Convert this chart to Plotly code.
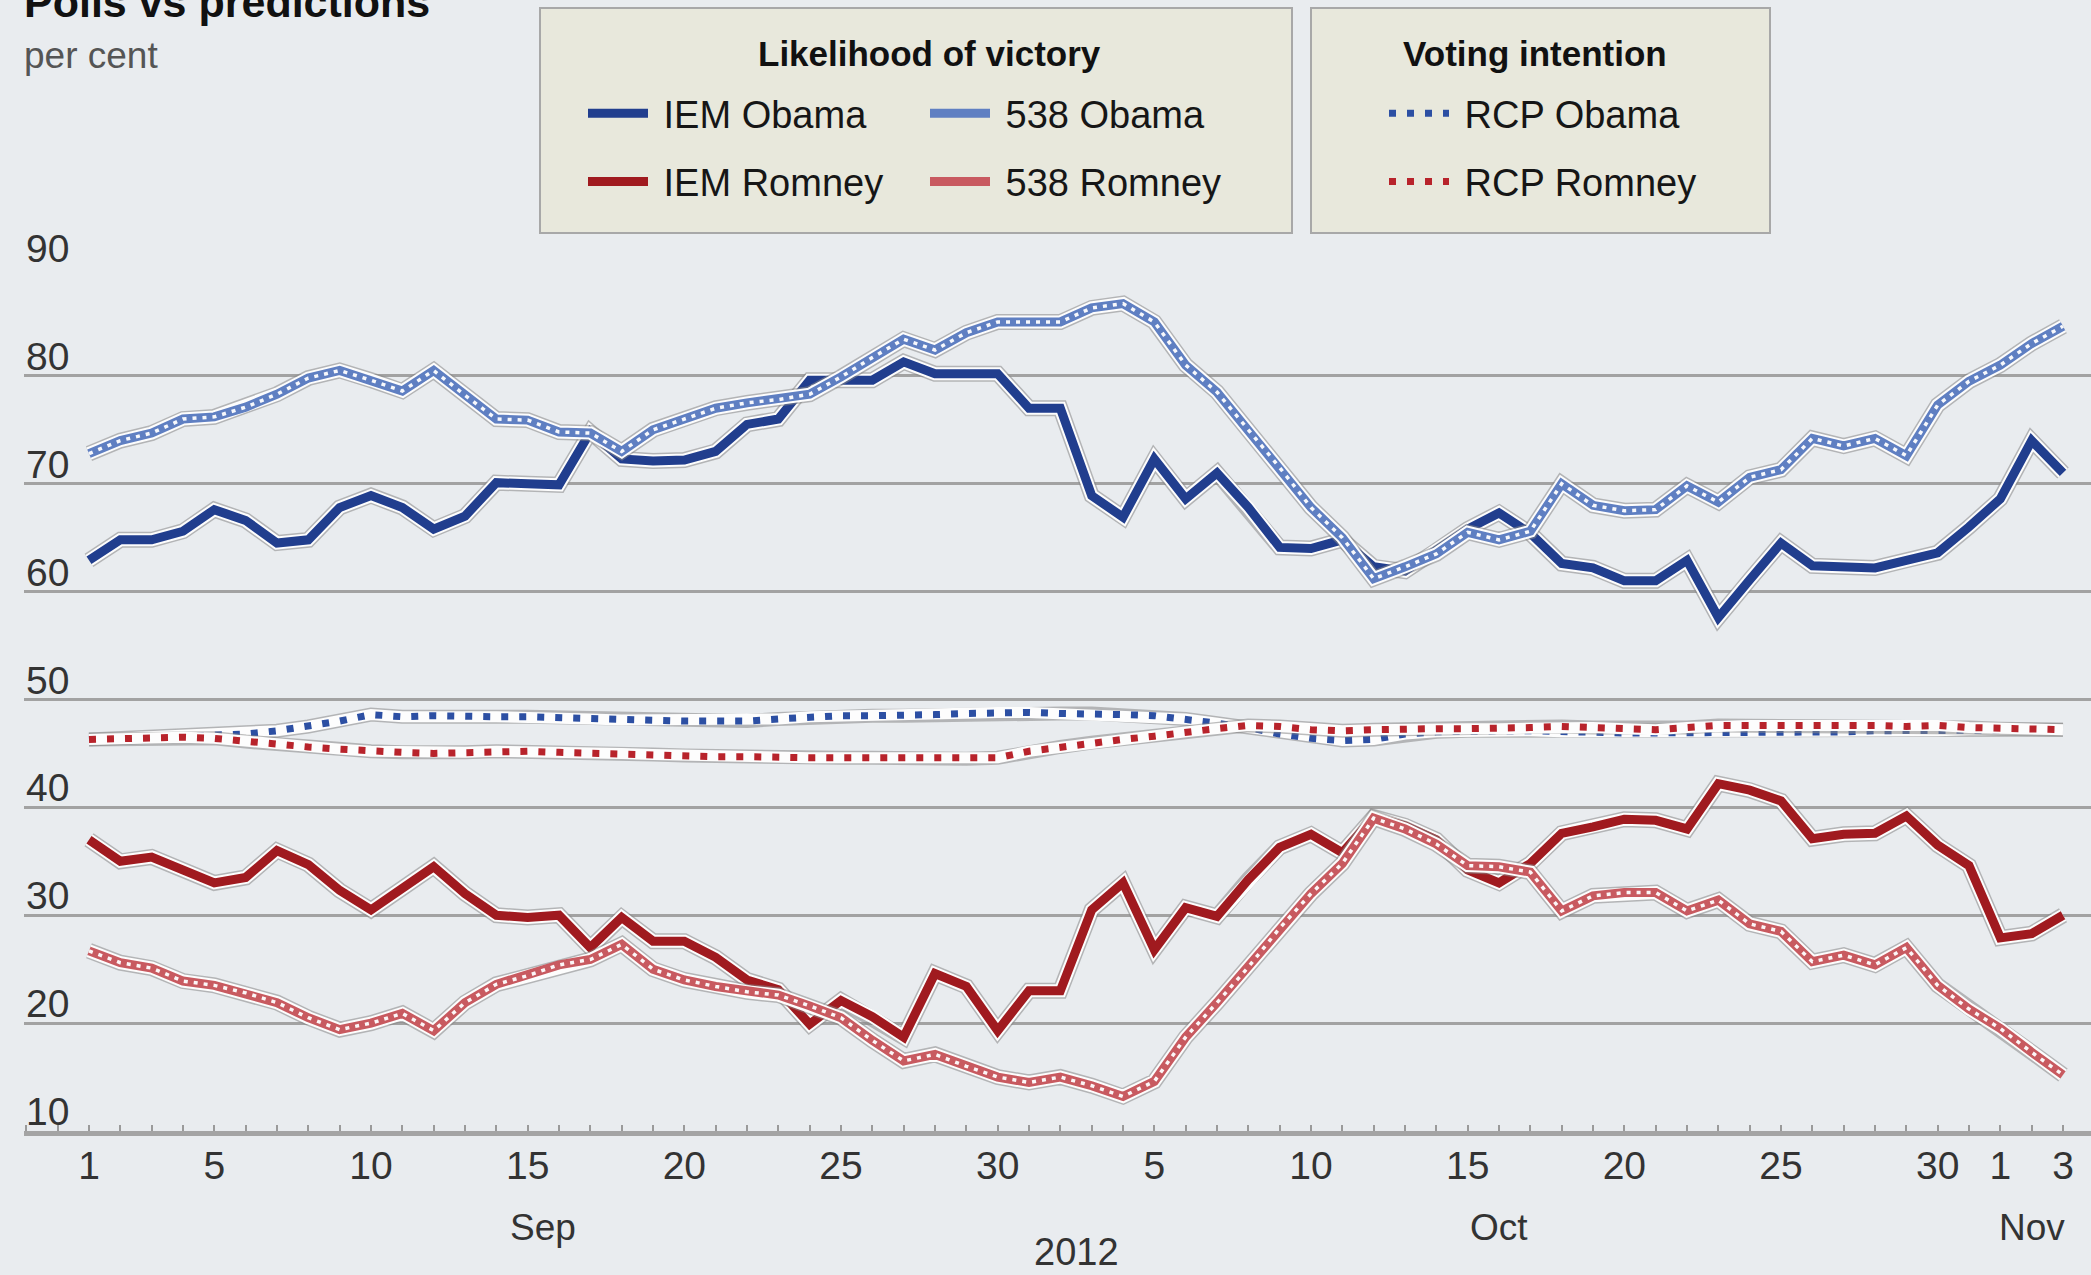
import pandas as pd
import plotly.graph_objects as go

# ---------------- data ----------------
dates = pd.date_range("2012-09-01", "2012-11-03", freq="D")

iem_obama = [62.9, 64.8, 64.8, 65.6, 67.6, 66.6, 64.5, 64.8, 67.8, 68.9,
             67.8, 65.8, 67.0, 70.1, 70.0, 69.9, 74.8, 72.3, 72.1, 72.2,
             73.0, 75.5, 76.0, 79.6, 79.6, 79.6, 81.3, 80.2, 80.2, 80.2,
             77.0, 77.0, 68.9, 66.9, 72.3, 68.6, 71.0, 67.8, 64.1, 64.0,
             64.8, 62.3, 61.9, 63.8, 65.8, 67.3, 65.4, 62.6, 62.2, 61.0,
             61.0, 62.9, 57.6, 61.1, 64.5, 62.4, 62.4, 62.2, 62.9, 63.6,
             66.0, 68.6, 74.0, 71.0]

iem_romney = [37.0, 35.0, 35.4, 34.3, 33.0, 33.5, 36.0, 34.7, 32.3, 30.5,
              32.6, 34.5, 32.0, 30.0, 29.8, 30.0, 27.0, 29.8, 27.6, 27.6,
              26.1, 24.0, 23.1, 19.9, 22.1, 20.6, 18.7, 24.6, 23.4, 19.3,
              23.0, 23.0, 30.5, 33.0, 26.8, 30.7, 29.9, 33.3, 36.3, 37.5,
              35.8, 39.1, 38.3, 37.0, 34.2, 33.0, 34.8, 37.6, 38.2, 38.9,
              38.8, 38.0, 42.2, 41.6, 40.6, 37.1, 37.5, 37.6, 39.2, 36.5,
              34.6, 27.9, 28.3, 30.0]

f538_obama = [72.8, 74.0, 74.7, 76.0, 76.2, 77.1, 78.3, 79.8, 80.5, 79.6,
              78.6, 80.5, 78.2, 76.0, 75.9, 74.8, 74.7, 73.0, 75.0, 76.0,
              77.0, 77.5, 77.8, 78.3, 79.9, 81.7, 83.4, 82.4, 84.0, 85.0,
              85.0, 85.0, 86.3, 86.7, 85.0, 81.0, 78.5, 75.0, 71.5, 67.8,
              65.0, 61.2, 62.3, 63.5, 65.5, 64.8, 65.6, 70.0, 68.0, 67.5,
              67.6, 69.8, 68.3, 70.6, 71.3, 74.2, 73.5, 74.2, 72.6, 77.3,
              79.5, 81.0, 83.0, 84.6]

f538_romney = [26.7, 25.6, 25.1, 23.9, 23.5, 22.8, 21.9, 20.5, 19.4, 20.0,
               20.9, 19.3, 21.9, 23.6, 24.4, 25.4, 25.9, 27.3, 25.0, 24.0,
               23.4, 22.9, 22.6, 21.6, 20.5, 18.4, 16.5, 17.1, 16.0, 15.0,
               14.5, 15.0, 14.2, 13.2, 14.6, 18.7, 21.9, 25.2, 28.8, 32.0,
               34.8, 39.0, 38.0, 36.6, 34.6, 34.5, 34.0, 30.4, 31.8, 32.1,
               32.1, 30.4, 31.4, 29.2, 28.5, 25.7, 26.3, 25.4, 27.0, 23.5,
               21.3, 19.5, 17.3, 15.2]

rcp_obama = [46.3, 46.4, 46.5, 46.6, 46.7, 46.8, 47.1, 47.5, 48.0, 48.6,
             48.4, 48.5, 48.4, 48.4, 48.4, 48.3, 48.2, 48.1, 48.1, 48.0,
             48.0, 48.0, 48.2, 48.4, 48.5, 48.5, 48.5, 48.6, 48.7, 48.8,
             48.8, 48.7, 48.7, 48.6, 48.5, 48.2, 47.8, 47.4, 46.8, 46.4,
             46.2, 46.3, 46.8, 47.0, 47.1, 47.1, 47.1, 47.0, 47.0, 46.9,
             46.9, 46.9, 47.0, 47.0, 47.0, 47.0, 47.0, 47.1, 47.1, 47.1,
             47.2, 47.2, 47.2, 47.2]

rcp_romney = [46.3, 46.4, 46.5, 46.5, 46.4, 46.1, 45.8, 45.6, 45.4, 45.2,
              45.1, 45.0, 45.1, 45.2, 45.2, 45.1, 45.0, 45.0, 44.9, 44.8,
              44.7, 44.7, 44.6, 44.6, 44.6, 44.6, 44.5, 44.5, 44.5, 44.6,
              45.2, 45.6, 46.0, 46.3, 46.6, 47.0, 47.3, 47.6, 47.5, 47.2,
              47.1, 47.2, 47.3, 47.3, 47.3, 47.3, 47.4, 47.5, 47.4, 47.3,
              47.2, 47.4, 47.6, 47.6, 47.6, 47.6, 47.7, 47.6, 47.5, 47.6,
              47.4, 47.3, 47.2, 47.2]

tick_dates = ["2012-09-01", "2012-09-05", "2012-09-10", "2012-09-15", "2012-09-20",
              "2012-09-25", "2012-09-30", "2012-10-05", "2012-10-10", "2012-10-15",
              "2012-10-20", "2012-10-25", "2012-10-30", "2012-11-01", "2012-11-03"]
tick_text = ["1", "5", "10", "15", "20", "25", "30", "5", "10", "15", "20", "25", "30", "1", "3"]
month_starts = ["2012-10-01", "2012-11-01"]
y_ticks = [10, 20, 30, 40, 50, 60, 70, 80, 90]
month_labels = ["Sep", "Oct", "Nov"]
month_pos = ["2012-09-15 12:00", "2012-10-16", "2012-11-02"]

# ---------------- layout geometry ----------------
W, H = 2091, 1275
L, R, T, B = 24, 0, 268, 144
PW, PH = W - L - R, H - T - B
FONT = "Liberation Sans, Arial, Helvetica, sans-serif"
BG = "#e9ecef"
NB = "\u00a0"


def px_x(px):
    return (px - L) / PW


def px_y(py):
    return (H - B - py) / PH


ppd = (2063 - 89) / 63.0
d0 = pd.Timestamp("2012-09-01")
x_start = d0 - pd.Timedelta(days=(89 - L) / ppd)
x_end = d0 + pd.Timedelta(days=(W - R - 89) / ppd)

fig = go.Figure()


def add_series(y, name, color, width, legend, dash=None, chain=False):
    grp = name
    common = dict(x=dates, y=y, mode="lines", hoverinfo="skip", showlegend=False,
                  legendgroup=grp, legend=legend)
    fig.add_trace(go.Scatter(line=dict(color="rgba(135,135,135,0.55)", width=width + 7), **common))
    fig.add_trace(go.Scatter(line=dict(color="rgba(253,253,253,1)", width=width + 4), **common))
    fig.add_trace(go.Scatter(x=dates, y=y, name=NB + name, mode="lines",
                             line=dict(color=color, width=width, dash=dash),
                             legendgroup=grp, legend=legend))
    if chain:
        fig.add_trace(go.Scatter(line=dict(color="rgba(255,255,255,0.95)", width=3.5,
                                           dash="4px,6px"), **common))


add_series(rcp_obama, "RCP Obama", "#2c4fa3", 7, "legend3", dash="7px,11px")
add_series(rcp_romney, "RCP Romney", "#b8232b", 7, "legend3", dash="7px,11px")
add_series(iem_obama, "IEM Obama", "#213e8e", 9, "legend")
add_series(iem_romney, "IEM Romney", "#a01a1f", 9, "legend")
add_series(f538_obama, "538 Obama", "#5f7fc2", 9, "legend2", chain=True)
add_series(f538_romney, "538 Romney", "#c85a60", 9, "legend2", chain=True)

legend_common = dict(font=dict(family=FONT, size=38, color="#161616"), bgcolor="rgba(0,0,0,0)",
                     borderwidth=0, orientation="v", yanchor="top", xanchor="left",
                     itemwidth=60, tracegroupgap=16, traceorder="grouped",
                     itemclick=False, itemdoubleclick=False)

annotations = []
# title & subtitle
annotations.append(dict(text="<b>Polls vs predictions</b>", xref="paper", yref="paper",
                        x=px_x(22), y=px_y(28), xanchor="left", yanchor="bottom",
                        showarrow=False, font=dict(family=FONT, size=43, color="#111")))
annotations.append(dict(text="per cent", xref="paper", yref="paper",
                        x=px_x(22), y=px_y(56), xanchor="left", yanchor="middle",
                        showarrow=False, font=dict(family=FONT, size=37, color="#555")))
# legend box titles
annotations.append(dict(text="<b>Likelihood of victory</b>", xref="paper", yref="paper",
                        x=px_x(929), y=px_y(53), xanchor="center", yanchor="middle",
                        showarrow=False, font=dict(family=FONT, size=35, color="#111")))
annotations.append(dict(text="<b>Voting intention</b>", xref="paper", yref="paper",
                        x=px_x(1535), y=px_y(53), xanchor="center", yanchor="middle",
                        showarrow=False, font=dict(family=FONT, size=35, color="#111")))
# y tick labels above gridlines
for v in y_ticks:
    annotations.append(dict(text=str(v), xref="paper", yref="y", x=0, y=v,
                            xanchor="left", yanchor="bottom", yshift=-4, showarrow=False,
                            font=dict(family=FONT, size=39, color="#333")))
# month labels
for m, p in zip(month_labels, month_pos):
    annotations.append(dict(text=m, xref="x", yref="paper", x=p, y=px_y(1227),
                            xanchor="center", yanchor="middle", showarrow=False,
                            font=dict(family=FONT, size=37, color="#333")))
annotations.append(dict(text="2012", xref="x", yref="paper", x="2012-10-02 12:00", y=px_y(1252),
                        xanchor="center", yanchor="middle", showarrow=False,
                        font=dict(family=FONT, size=38, color="#333")))

shapes = [
    dict(type="rect", xref="paper", yref="paper", x0=px_x(540), x1=px_x(1292),
         y0=px_y(233), y1=px_y(8), fillcolor="#e8e8dc", line=dict(color="#a8a8a8", width=2),
         layer="below"),
    dict(type="rect", xref="paper", yref="paper", x0=px_x(1311), x1=px_x(1770),
         y0=px_y(233), y1=px_y(8), fillcolor="#e8e8dc", line=dict(color="#a8a8a8", width=2),
         layer="below"),
]

fig.update_layout(
    width=W, height=H,
    margin=dict(l=L, r=R, t=T, b=B, pad=0),
    paper_bgcolor=BG, plot_bgcolor=BG,
    font=dict(family=FONT, size=40, color="#333"),
    showlegend=True,
    legend=dict(x=px_x(583), y=px_y(82), **legend_common),
    legend2=dict(x=px_x(925), y=px_y(82), **legend_common),
    legend3=dict(x=px_x(1384), y=px_y(82), **legend_common),
    annotations=annotations,
    shapes=shapes,
    hovermode=False,
    xaxis=dict(
        type="date",
        range=[x_start, x_end],
        tickvals=tick_dates, ticktext=tick_text,
        ticks="inside", ticklen=6, tickwidth=2, tickcolor="#9a9a9a",
        minor=dict(dtick=86400000.0, tick0="2012-09-01", ticks="inside", ticklen=6,
                   tickwidth=2, tickcolor="#9a9a9a", showgrid=False),
        showgrid=False, zeroline=False,
        showline=True, linecolor="#a4a4a4", linewidth=5,
        tickfont=dict(family=FONT, size=39, color="#333"),
        ticklabelstandoff=-4,
    ),
    xaxis2=dict(
        type="date", range=[x_start, x_end], overlaying="x", anchor="y", side="bottom",
        tickvals=month_starts, ticks="inside", ticklen=12, tickwidth=2,
        tickcolor="#9a9a9a", showticklabels=False, showgrid=False,
        zeroline=False, showline=False,
    ),
    yaxis=dict(
        range=[10, 90], tickvals=y_ticks, showticklabels=False,
        showgrid=True, gridcolor="#a2a2a2", gridwidth=3,
        zeroline=False, showline=False, ticks="",
    ),
)

fig.write_html("out.html", config={"displayModeBar": False},
               post_script="document.body.style.margin='0';")
